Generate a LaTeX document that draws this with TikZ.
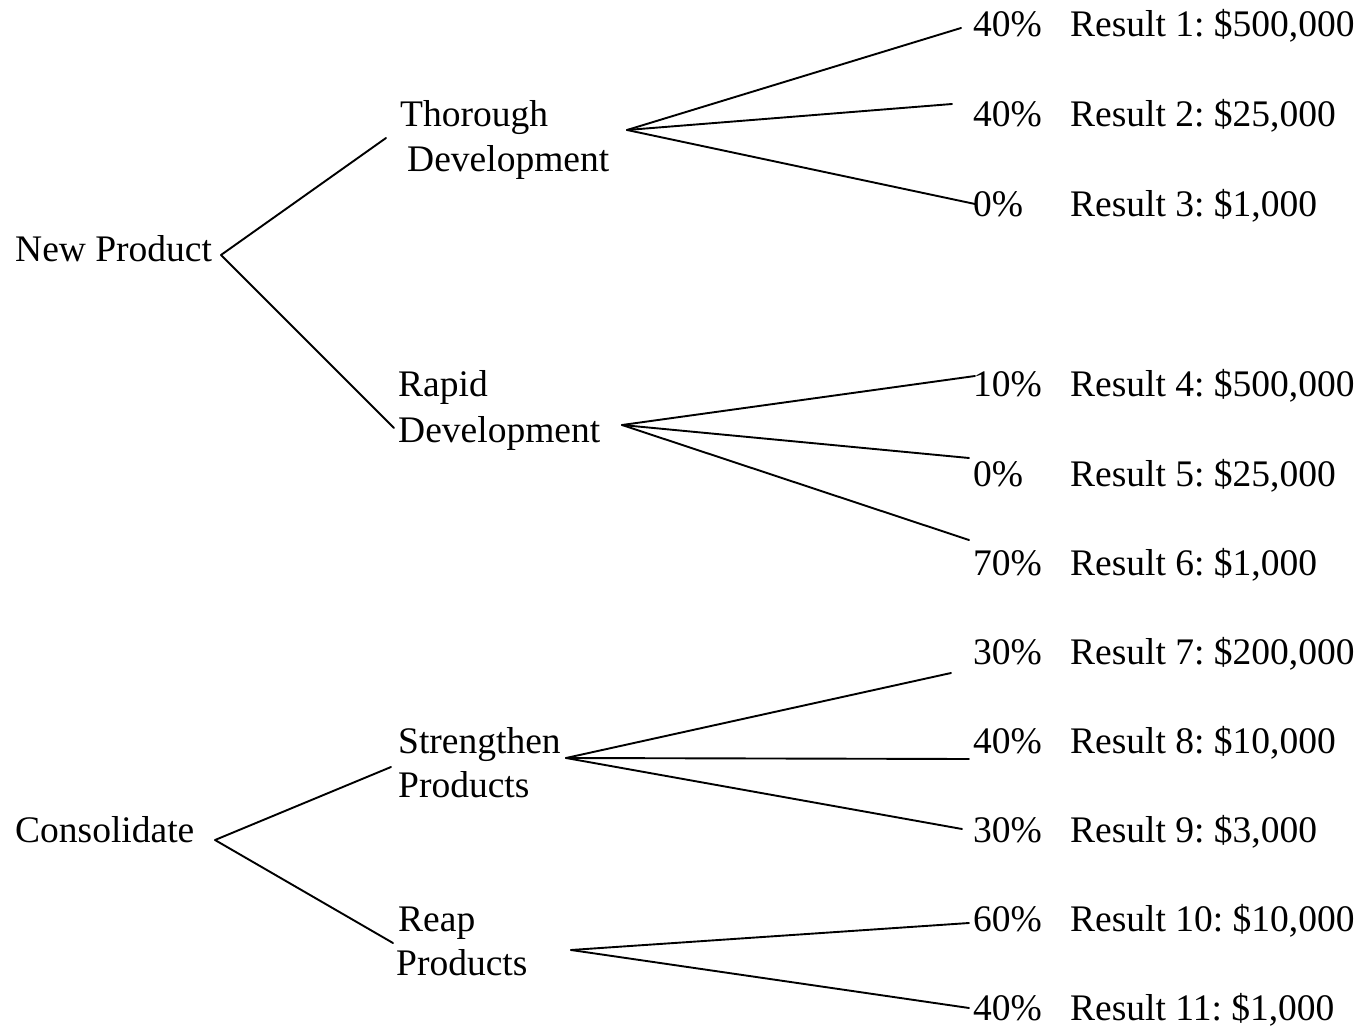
\documentclass[tikz,border=0pt]{standalone}
\usepackage{fontspec}
\setmainfont{Liberation Serif}
\frenchspacing
\begin{document}
\begin{tikzpicture}[x=1pt,y=-1pt,
  lbl/.style={anchor=base west,inner sep=0pt,font=\fontsize{37.5}{44}\selectfont},
  branch/.style={line width=1.9pt,line cap=round,line join=round}]
\useasboundingbox (0,0) rectangle (1361,1027);

% decision labels
\node[lbl] (np)   at (15,262)  {New Product};
\node[lbl] (cons) at (15,842)  {Consolidate};
\node[lbl] (thA)  at (400,127) {Thorough};
\node[lbl] (thB)  at (407,172) {Development};
\node[lbl] (rpA)  at (398,396) {Rapid};
\node[lbl] (rpB)  at (398,442) {Development};
\node[lbl] (stA)  at (398,753) {Strengthen};
\node[lbl] (stB)  at (398,797) {Products};
\node[lbl] (reA)  at (398,931) {Reap};
\node[lbl] (reB)  at (396,975) {Products};

% outcome rows: probability and result
\foreach \i/\y/\p/\r in {
  1/37/40\%/{Result 1: \$500,000},
  2/127/40\%/{Result 2: \$25,000},
  3/217/0\%/{Result 3: \$1,000},
  4/396/10\%/{Result 4: \$500,000},
  5/486/0\%/{Result 5: \$25,000},
  6/575/70\%/{Result 6: \$1,000},
  7/664/30\%/{Result 7: \$200,000},
  8/753/40\%/{Result 8: \$10,000},
  9/842/30\%/{Result 9: \$3,000},
  10/931/60\%/{Result 10: \$10,000},
  11/1020/40\%/{Result 11: \$1,000}}{
  \node[lbl] (p\i) at (973,\y) {\p};
  \node[lbl] (r\i) at (1070,\y) {\r};
}

% branch points and branch ends
\coordinate (npA) at (221,255);
\coordinate (npU) at (386,138);
\coordinate (npL) at (394,428);
\coordinate (coA) at (215,840);
\coordinate (coU) at (391,767);
\coordinate (coL) at (393,943);

\coordinate (thX) at (627,130);
\coordinate (e1) at (961,28);
\coordinate (e2) at (952,104);
\coordinate (e3) at (975,204);

\coordinate (rpX) at (622,425);
\coordinate (e4) at (975,376);
\coordinate (e5) at (969,458);
\coordinate (e6) at (969,540);

\coordinate (stX) at (566,758);
\coordinate (e7) at (951,673);
\coordinate (e8) at (969,759);
\coordinate (e9) at (962,829);

\coordinate (reX) at (571,950);
\coordinate (e10) at (969,923);
\coordinate (e11) at (969,1008);

% connectors
\draw[branch] (npU) -- (npA) -- (npL);
\draw[branch] (coU) -- (coA) -- (coL);
\foreach \e in {e1,e2,e3} \draw[branch] (thX) -- (\e);
\foreach \e in {e4,e5,e6} \draw[branch] (rpX) -- (\e);
\foreach \e in {e7,e8,e9} \draw[branch] (stX) -- (\e);
\foreach \e in {e10,e11} \draw[branch] (reX) -- (\e);
\end{tikzpicture}
\end{document}
